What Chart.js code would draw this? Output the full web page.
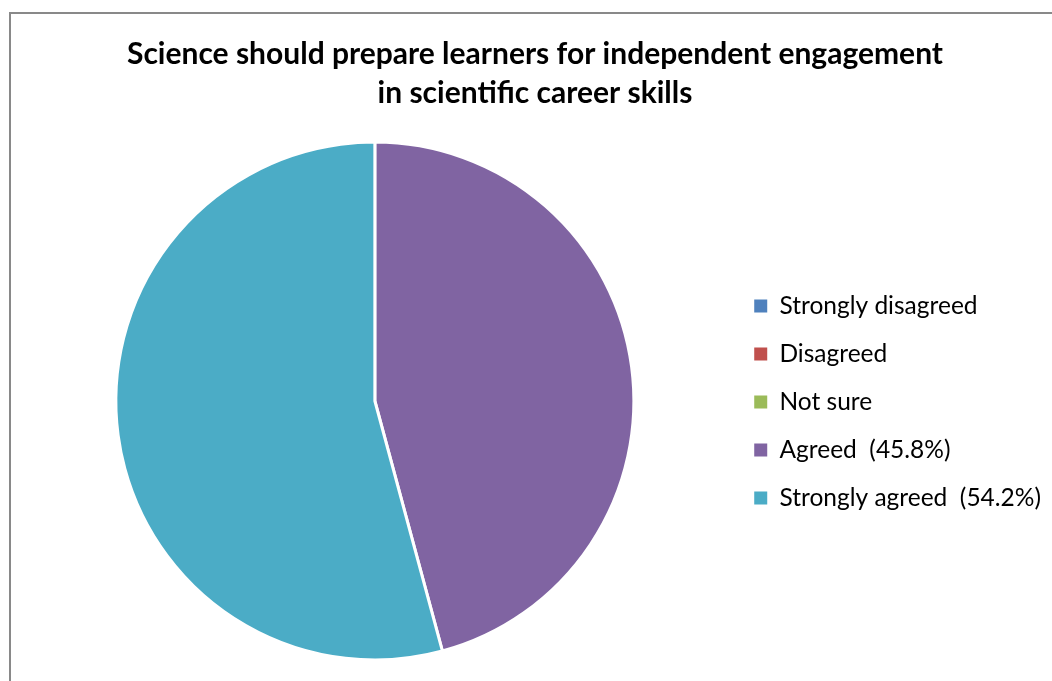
<!DOCTYPE html>
<html>
<head>
<meta charset="utf-8">
<script src="https://cdn.jsdelivr.net/npm/chart.js@4"></script>
<style>
    html, body { margin: 0; padding: 0; background: #fff; overflow: hidden; }
    #frame {
        position: absolute; left: 9px; top: 12px; width: 1100px; height: 720px;
        border: 2px solid #898989; box-sizing: border-box;
    }
    #wrap { position: absolute; left: 0; top: 0; width: 1052px; height: 681px; }
</style>
</head>
<body>
<div id="frame"></div>
<div id="wrap"><canvas id="pie"></canvas></div>
<script>
    const titleLines = ["Science should prepare learners for independent engagement", "in scientific career skills"];
    const categories = ["Strongly disagreed", "Disagreed", "Not sure", "Agreed  (45.8%)", "Strongly agreed  (54.2%)"];
    const percentages = [0, 0, 0, 45.8, 54.2];
    const sliceColors = ["#4F81BD", "#C0504D", "#9BBB59", "#8064A2", "#4BACC6"];

    const FONT = "Lato, 'Open Sans', sans-serif";

    (function () {
        const ctx = document.getElementById("pie").getContext("2d");

        const cfg = {
            type: "pie",
            data: {
                labels: categories,
                datasets: [{
                    data: percentages,
                    backgroundColor: sliceColors,
                    borderColor: "#ffffff",
                    borderWidth: 3,
                    hoverOffset: 0
                }]
            },
            options: {
                responsive: true,
                maintainAspectRatio: false,
                animation: false,
                radius: 259,
                layout: { padding: { left: 19, right: 1, top: 0, bottom: 0 } },
                plugins: {
                    title: {
                        display: true,
                        text: titleLines,
                        color: "#000",
                        font: { family: FONT, size: 30, weight: "bold", lineHeight: 1.3 },
                        padding: { top: 34.5, bottom: 8.5 }
                    },
                    legend: {
                        position: "right",
                        // empty title only pushes the item column down beside the pie
                        title: {
                            display: true,
                            text: "",
                            font: { size: 10, lineHeight: 1 },
                            padding: { top: 113, bottom: 0 }
                        },
                        labels: {
                            color: "#000",
                            font: { family: FONT, size: 24.5 },
                            boxWidth: 13,
                            boxHeight: 13,
                            padding: 23.5,
                            // plain coloured squares, no white outline
                            generateLabels: function (chart) {
                                const items = Chart.controllers.pie.overrides.plugins.legend.labels.generateLabels(chart);
                                items.forEach(it => { it.lineWidth = 0; });
                                return items;
                            }
                        }
                    },
                    tooltip: { enabled: false }
                }
            }
        };

        new Chart(ctx, cfg);
    })();
</script>
</body>
</html>
